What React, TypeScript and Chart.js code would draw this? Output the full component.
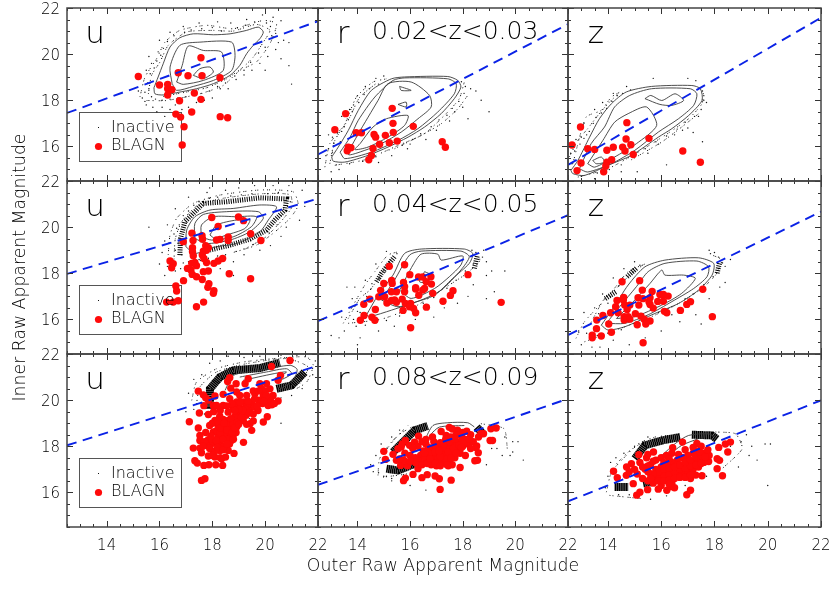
import React, { useEffect, useRef } from "react";
import { Chart, registerables } from "chart.js";

Chart.register(...registerables);

const xTicks = [14, 16, 18, 20, 22];
const yTicks = [16, 18, 20, 22];
const xRange = [12.5, 22];
const yRange = [14.5, 22];
const minorStep = 0.5;
const redshifts = ["0.02<z<0.03", "0.04<z<0.05", "0.08<z<0.09"];
const bands = ["u", "r", "z"];
const xTitle = "Outer Raw Apparent Magnitude";
const yTitle = "Inner Raw Apparent Magnitude";
const legendNames = ["Inactive", "BLAGN"];

// fitted lines: x0,y0,x1,y1
const u1Line = [12.5, 17.45, 22, 21.43];
const r1Line = [12.5, 15.65, 22, 21.3];
const z1Line = [12.5, 15.2, 22, 21.58];
const u2Line = [12.5, 17.97, 22, 21.24];
const r2Line = [12.5, 15.93, 22, 20.52];
const z2Line = [12.5, 15.32, 22, 20.67];
const u3Line = [12.5, 18.04, 22, 21.5];
const r3Line = [12.5, 16.33, 22, 20.06];
const z3Line = [12.5, 15.61, 22, 19.99];

// BLAGN
const u1Red = [15.2,19.03,16,18.66,16.31,18.69,16.31,18.5,16.47,18.46,16.31,18.23,16.76,17.98,16.71,19.19,17.08,19.06,17.57,19.84,17.61,19.06,18.29,18.98,17.32,18.31,17.57,18.04,16.62,17.4,16.8,17.27,17.22,17.49,16.93,16.85,18.3,17.29,18.58,17.24,16.86,16.06];
const r1Red = [13.55,17.42,13.14,16.72,13.95,16.59,14.15,16.59,15.32,17.65,15.35,17,15.36,16.61,14.63,16.52,14.69,16.4,15.06,16.48,16.12,16.87,15.51,16.23,15.21,16.16,14.84,16.09,14.59,15.91,13.75,15.94,13.65,15.97,13.61,15.81,14.53,15.61,14.43,15.42,17.22,16.2,17.34,15.96];
const z1Red = [12.97,16.84,12.65,16.06,13.24,15.9,13.5,15.87,12.99,15.28,12.84,14.95,14.71,17.03,14.68,16.32,14.86,16.07,14.55,15.97,14.2,15.96,13.96,15.83,14.64,15.8,14.95,15.65,15.54,16.35,13.96,15.32,14.14,15.42,13.92,15.15,13.84,14.9,16.81,15.8,17.47,15.31];
const u2Red = [17.98,20.42,18.22,20.03,18.99,20.44,19.18,20.28,17.23,19.74,17.61,19.63,17.63,19.48,17.27,19.42,16.9,19.37,18.16,19.44,18.29,19.47,18.6,19.57,18.6,19.42,19.45,19.71,19.84,19.42,17.25,19.11,17.25,18.93,17.28,18.76,17.75,19.19,17.85,19.11,17.66,18.96,17.62,18.79,17.78,19,17.68,18.64,17.78,18.47,18.06,18.43,18.22,18.53,18.39,18.64,16.4,18.53,16.52,18.41,16.46,18.24,17.22,18.43,17.34,18.47,17.4,18.33,17.06,18.21,17.19,18.14,17.24,17.95,17.4,17.85,17.62,17.73,17.66,18.07,17.85,18.1,18.64,17.98,19.45,17.76,16.91,17.68,16.62,17.45,16.65,17.23,17.87,17.55,17.83,17.39,18.06,17.24,18.04,17.13,16.27,16.75,16.52,16.75,16.71,16.81,17.67,16.75,17.4,16.55];
const r2Red = [15.21,18.3,15.79,18.37,15.99,17.94,16.32,17.84,16.48,17.84,16.79,17.85,15,17.56,15.3,17.69,15.32,17.56,15.75,17.6,14.88,17.26,15.29,17.2,15.48,17.2,15.79,17.42,15.79,17.2,16.21,17.37,16.21,17.32,16.55,17.34,16.61,17.63,16.81,17.53,16.48,17.27,16.33,17.05,16.86,17.13,17.63,17.24,17.53,17.04,17.25,16.79,18.2,17.94,19.46,16.74,14.81,16.98,15.03,16.98,14.47,16.88,14.24,16.66,15.12,16.71,15.29,16.82,15.48,16.74,15.41,16.84,15.7,16.88,15.82,16.69,16.02,16.69,15.98,16.55,16.13,16.48,15.73,16.39,16.21,16.29,16.62,16.53,14.68,16.43,14.25,16.17,14.55,16.09,14.11,15.96,14.66,15.96,16.02,15.64];
const z2Red = [14.53,17.63,15.19,17.68,15.29,17.27,15.66,17.21,15.95,17.08,16.08,17.08,16.26,17.01,14.59,16.95,14.58,16.84,14.34,16.82,15.13,16.94,15.31,16.9,15.58,16.94,15.54,16.77,15.87,16.78,16.08,16.79,14.82,16.62,14.63,16.62,14.29,16.55,15.16,16.62,15.58,16.65,15.7,16.49,14.72,16.43,14.1,16.29,13.81,16.17,14.38,16.29,13.58,15.97,14.61,16.12,14.76,16.12,14.61,15.97,14.82,16.01,15.03,16.25,15.24,16.14,15.36,16.01,15.58,15.93,15.42,15.8,15.1,15.77,14.03,15.8,13.57,15.6,14.13,15.44,13.75,15.28,13.41,15.32,13.41,15.2,15.32,14.99,16.12,16.35,16.21,16.29,16.72,16.39,16.96,16.65,17.1,16.77,17.56,17.31,17.92,16.12];
const u3Red = [20.94,21.72,20.24,21.46,20.58,21.07,20.49,20.86,19.36,20.93,18.66,20.97,18.58,20.81,19.24,20.71,18.9,20.71,18.7,20.52,17.47,20.39,17.66,20.23,17.75,20.1,17.68,19.76,18.04,19.77,18.16,19.77,18.41,19.77,18.41,20.25,18.1,20.18,18.66,20.06,18.92,20.35,19.04,20.2,19.8,20.71,20.05,20.71,20.18,20.49,19.86,20.49,19.61,20.28,19.93,20.2,20.3,20.2,20.49,19.96,20.11,19.77,19.8,19.92,19.49,19.85,19.17,19.92,18.92,19.92,18.79,19.63,19.1,19.63,19.41,19.63,19.73,19.55,19.28,19.34,18.92,19.41,18.6,19.48,17.51,19.44,17.85,19.38,18.1,19.12,18.41,19.16,18.86,19.12,19.17,19.12,20.08,19.28,19.93,19.05,17.13,19.06,17.47,18.79,17.53,18.47,17.53,18.25,17.85,18.28,18.04,18.62,18.35,18.76,18.66,18.76,18.92,18.83,19.49,18.69,19.43,18.98,18.54,18.47,18.22,18.4,17.97,18.11,17.78,18.04,18.28,18.11,18.72,18.25,18.79,18.47,19.18,18.17,17.28,17.92,17.53,17.92,17.59,17.72,18.04,17.75,18.29,17.82,18.6,17.82,18.82,17.69,17.85,17.58,18.1,17.53,18.35,17.46,18.5,17.53,17.34,17.37,17.43,17.27,17.68,17.17,17.87,17.2,18.13,17.2,18.39,17.17,17.72,16.59,17.59,16.52,18.22,18.9,18.16,18.68,18.54,18.9,19.04,19.38,18.6,19.12,18.28,19.3,18.95,19.7,18.85,19.3,19.05,19.9,19.3,19.75,19.6,19.7,19.9,19.85,20.2,20,20,20.4,19.75,20,18.7,19,18.9,18.6,18.7,18.5,18.45,18.5,18.3,18.6,18,18.3,18.2,18.1,18.45,18,18.65,18.1,17.9,17.9,18.1,17.8,18.3,17.5,17.9,18.9,18,19,18.2,19.1,18.3,18.8,18.45,19,18.55,18.7,18.7,19.2,18.8,18.95,18.95,19.05,19.1,19.25,19.25,19.6,19.4,19.45,19.55,19.4,19.7,19.75,19.35,19.95,19.15,19.55,19,19.6,18.85,19.55,18.75,19.85,18.55,19.75,18.6,18.3,18.4,18.3,18.15,18.25,17.95,18.45,17.75,18.6,17.7,18.2,17.65,18,18,17.6,18.2,17.95,18.4,17.85,18.55,18.1,18.75,18.6,18.85,18.8,19,18.95,18.8,18.3,19.3,18.95,19.55,19.1,19.3,20.2,19.55,20.4,19.75,20.4,20.05,20.2,20.25,19.8,20.35,19.85,19.95,19.95,19.6,20.05,17.85,20,18.3,19.55,18.05,19.5];
const r3Red = [17.14,16.13,17.56,16.53,17.11,16.59,16.95,16.71,16.65,16.77,16.45,16.64,15.82,16.62,15.75,16.51,16.11,16.78,16.3,17.03,16.38,17.24,17.9,17.08,18.46,17.37,18.56,17.39,18.59,17.72,18.53,18.01,19.04,18.25,19.13,18.25,18.79,18.54,19.07,18.76,19.27,18.79,18.69,18.54,17.49,18.82,15,17.78,15.06,17.43,15.64,17.17,15.48,17.39,15.77,17.39,15.54,17.89,15.66,17.97,15.82,18.25,15.98,18.04,16.17,18.18,16.32,18.44,17.18,18.64,17.37,18.47,16.5,17.8,16.7,17.6,16.9,17.4,17.1,17.3,17.3,17.3,17.5,17.35,16.6,17.4,16.8,17.2,17,17.15,17.2,17.5,17.4,17.6,17.6,17.7,17,17.7,16.8,17.9,16.6,18.1,16.9,18.2,17.1,18,17.3,17.9,17.5,18,17.7,18.1,17.9,18.2,18.1,18.3,18.3,18.5,18,18.6,17.8,18.7,17.6,18.75,17.8,17.9,18,18,17.9,17.7,17.7,17.5,16.4,17.6,16.2,17.5,16,17.6,15.8,17.7,16.3,18,17.2,17.7,16.95,17.55,18.2,18.1,18.4,18.2,18.6,18.4,17.6,17.2,17.45,17.15,16.35,17.35,16.55,17.55,16.75,17.75,16.95,17.95,17.15,18.15,17.35,18.3,17.55,18.4,17.75,18.5,17.95,18.45,18.15,18.65,16.45,17.2,16.65,17.25,16.85,17.35,17.05,17.45,17.25,17.6,17.45,17.75,17.65,17.9,17.85,18.05,18.05,18.15,18.25,18.3,16.55,17.7,16.75,17.45,16.95,17.25,17.15,17.15,17.35,17.45,17.55,17.5,17.75,17.7,17.95,17.95,16.7,17.95,16.95,17.75,17.15,17.55,17.4,17.2,17.1,17.8,17.3,18.1,17.5,18.2,17.7,18.3,16.2,17.3,16.1,17.9,15.6,17.45,15.9,17.15,16,17.35,15.35,17.65,15.7,18.1,16.45,18.2,16.6,18.3,16.85,18.4,18.5,17.95,18.3,17.9,18.1,17.6];
const z3Red = [16.96,15.9,17.1,16.09,15.08,15.88,15.2,16.01,15.49,16.12,15.89,16.14,16.21,16.09,16.37,16.25,14.21,16.92,14.35,16.64,14.69,16.74,14.95,16.38,14.88,17.24,15.16,17.63,15.71,17.75,16.8,18.18,16.43,17.94,17.34,18.12,18.16,17.95,18.41,18.1,18.6,18.18,18.5,17.75,18.1,17.46,18.19,17.39,18.1,17.03,18.3,16.72,17.53,16.72,17.78,17.34,15.4,17,15.6,16.8,15.8,16.6,16,16.5,16.2,16.6,16.4,16.7,16.6,16.8,16.8,16.9,17,16.9,17.2,17,17.4,17.1,17.6,17.3,17.8,17.6,17.6,17.7,17.4,17.8,17.2,17.7,17,17.6,16.8,17.5,16.6,17.4,16.4,17.3,16.2,17.2,16,17.1,15.8,17,15.6,17.2,15.8,17.4,16,17.5,16.2,17.6,16.4,17.7,16.6,17.2,16.8,17.1,17,17.2,17.2,17.3,17.4,17.4,16.2,16.9,16,16.85,15.5,16.5,15.3,16.6,15.7,16.4,16,16.3,16.4,16.4,15.2,17.3,15.45,17.5,17.1,16.6,17.3,16.75,15.9,16.7,16.1,16.75,16.3,16.8,16.5,16.9,16.7,17,16.9,17.05,17.1,17.15,17.3,17.2,17.5,17.25,15.9,16.9,16.1,17,16.3,17.05,16.5,17.1,16.7,17.2,16.9,17.3,17.1,17.4,17.3,17.55,17.5,17.6,15.7,16.8,15.9,16.5,16.1,16.5,16.3,16.55,16.5,16.6,16.7,16.65,16.9,16.65,17.1,16.75,15.5,16.9,15.5,17.15,15.7,17.35,15.3,17.1,15.1,16.8,15,17,14.8,16.9,14.7,17.1,15.6,16.6,16.3,16.35,16.5,16.2,15.5,17.65,17.45,17.75,17.65,17.55,17.75,17.85,17.5,18,17.2,17.95,16.9,17.85,16.65,17.65,16.3,17.45,16.1,17.3];

// contours
const u1Contours = [
  [15.79,18.54,15.95,19.01,16.14,19.58,16.4,20.31,16.77,20.71,17.28,20.88,18.04,20.84,18.67,20.88,19.3,21.03,19.74,21.17,19.93,20.96,19.8,20.67,19.55,20.38,19.3,20.02,19.04,19.51,18.67,19.08,18.04,18.72,17.4,18.5,16.65,18.33,16.14,18.23,15.83,18.28,15.79,18.54],
  [16.48,18.72,16.4,19.44,16.77,20.38,17.53,20.52,18.73,20.52,18.86,19.94,18.73,19.29,18.04,18.86,17.28,18.6,16.65,18.43,16.48,18.72],
  [16.65,18.79,16.86,19.51,17.09,20.35,17.66,20.16,18.35,20.09,18.41,19.29,17.66,18.86,16.9,18.69,16.65,18.79],
  [17.28,19.08,17.53,19.37,17.91,19.44,18.04,19.22,17.66,18.94,17.28,19.08],
];
const r1Contours = [
  [13.02,15.54,13.27,15.97,13.65,16.69,14.03,17.56,14.53,18.43,15.29,18.93,15.79,19.01,17.43,19.03,17.81,18.86,17.93,18.57,17.68,18.07,17.18,17.42,16.55,16.84,15.92,16.4,15.16,15.97,14.4,15.61,13.52,15.32,13.08,15.36,13.02,15.54],
  [13.34,15.75,13.72,16.4,14.03,17.13,14.66,18.14,15.35,18.86,15.8,18.97,17.43,18.93,17.75,18.72,17.68,18.28,17.05,17.49,16.3,16.77,15.54,16.26,14.53,15.75,13.52,15.47,13.34,15.75],
  [14.03,16.55,14.78,17.99,15.16,18.72,16.04,18.79,16.74,18.21,16.8,17.71,16.3,17.2,15.66,16.62,14.91,16.12,14.28,15.83,13.65,15.65,14.03,16.55],
  [14.1,16.12,14.59,16.84,15.1,17.2,15.92,17.34,15.79,16.91,15.16,16.4,14.4,15.97,13.9,15.86,14.1,16.12],
  [15.54,17.82,15.85,17.92,15.85,17.71,15.54,17.82],
  [15.6,18.6,16.04,18.43,15.66,18.43,15.6,18.6],
];
const z1Contours = [
  [12.61,14.96,12.87,15.39,13.31,16.4,13.68,17.2,14.13,17.85,14.69,18.36,15.64,18.6,17.15,18.64,17.47,18.5,17.53,17.99,17.03,17.34,16.4,16.77,15.89,16.4,14.88,15.61,14,15.18,13.12,14.74,12.68,14.82,12.61,14.96],
  [12.93,15.03,13.37,16.12,13.87,16.84,14.25,17.71,14.82,18.21,15.64,18.5,17.09,18.5,17.34,18.28,17.22,17.78,16.65,17.2,15.89,16.62,15.01,15.83,14.13,15.25,13.24,14.89,12.93,15.03],
  [13.24,15.25,13.81,16.26,14.25,17.05,14.76,17.42,15.45,17.71,15.83,16.91,15.07,16.12,14.25,15.54,13.5,15.1,13.24,15.25],
  [15.39,18.07,15.61,18.21,16.02,17.99,16.52,18.28,16.84,17.99,16.4,17.78,15.95,17.82,15.39,18.07],
  [13.43,15.39,13.75,15.54,13.87,15.32,13.56,15.25,13.43,15.39],
];
const u2Contours = [
  [17,19.15,17.03,19.87,17.34,20.45,17.91,20.74,18.79,20.81,19.8,20.96,20.43,20.88,20.12,20.31,19.8,19.8,18.92,19.29,18.16,19.15,17.34,18.86,17,19.15],
  [17.34,19.51,17.34,20.16,17.66,20.55,18.54,20.67,19.74,20.67,19.93,20.38,19.42,19.8,18.67,19.44,17.78,19.29,17.34,19.51],
  [17.59,19.58,17.59,20.09,18.04,20.45,18.92,20.45,19.67,20.45,19.48,20.02,18.79,19.58,17.97,19.44,17.59,19.58],
  [17.91,19.66,18.16,20.09,18.92,20.31,19.42,20.31,19.23,19.94,18.54,19.66,18.1,19.51,17.91,19.66],
];
const r2Contours = [
  [14.34,16.19,14.78,17.05,15.35,17.92,15.79,18.86,16.42,19.05,18.06,19.05,18.38,18.86,18.25,18.43,17.62,17.78,16.93,17.05,16.04,16.69,15.29,16.4,14.47,16.12,14.34,16.19],
  [14.91,16.84,15.41,17.71,15.98,18.79,16.42,18.96,17.93,18.96,18.25,18.72,17.93,18.14,17.18,17.27,16.42,16.84,15.54,16.55,14.91,16.84],
  [15.6,17.27,16.11,18.36,16.42,18.83,17.05,18.83,17.18,18.57,18,18.75,17.93,18.36,17.49,17.85,16.93,17.34,16.04,16.91,15.6,17.27],
  [16.55,18.07,16.8,17.92,16.67,17.63,16.36,17.63,16.55,18.07],
];
const z2Contours = [
  [13.75,15.75,14.19,16.48,14.76,17.49,15.39,18.28,16.14,18.57,17.4,18.67,17.97,18.43,17.91,17.92,17.4,17.27,16.65,16.69,15.77,16.26,14.63,15.68,14,15.54,13.75,15.75],
  [13.94,15.83,14.44,16.55,15.07,17.42,15.51,18.07,16.14,18.43,17.34,18.53,17.78,18.28,17.72,17.85,17.22,17.34,16.4,16.77,15.51,16.2,14.63,15.83,13.94,15.83],
  [14.32,16.04,15.01,16.84,15.58,17.56,16.02,18.14,16.14,17.92,16.84,17.92,17.28,17.78,16.77,17.13,16.02,16.62,15.01,16.12,14.32,16.04],
];
const u3Contours = [
  [18.48,20.42,18.79,21.07,19.8,21.29,20.94,21.51,21.21,21.33,21.06,20.86,20.49,20.42],
  [19.04,21,20.05,21.22,20.81,21.36,21,21.14,20.43,20.78],
  [19.17,20.86,20.3,21.14,20.81,21.22,20.3,20.86],
];
const r3Contours = [
  [16.55,18.25,16.87,18.9,17.43,19.02,18.19,19.02,18.44,18.84],
  [16.74,18.47,17.11,18.83,18.06,18.9],
];
const z3Contours = [
  [16.02,17.6,16.52,18.11,17.03,18.47,17.78,18.54,18.03,18.4],
  [16.27,17.6,16.77,18.04,17.4,18.33],
];

// stippled rims of the inactive cloud
const u1Rims = [
  [15.26,18.14,15.45,19,15.89,19.8,16.21,20.52,16.77,21.03,17.78,21.25,18.79,21.1,19.93,21.46,20.43,21.32,20.18,20.45,19.67,19.66,19.04,19.29,18.41,18.64,17.53,18.28,16.27,17.99,15.51,17.99],
  [15.58,18.28,15.7,19.08,16.02,19.66,16.33,20.38,17.03,20.96,18.04,21.03,18.79,21,19.67,21.29,20.18,21.03,19.93,20.52,19.55,19.87,19.17,19.44,18.54,18.93,17.78,18.54,17.03,18.36,16.02,18.14],
];
const r1Rims = [
  [12.76,15.1,12.95,16.12,13.52,16.98,13.96,18.14,14.59,18.79,15.1,18.93],
  [12.95,15.25,13.14,16.26,13.71,17.27,14.09,18.14,14.78,18.79],
  [13.14,15.18,14.28,15.42,15.54,16.04,16.55,16.55,17.43,17.49,17.87,18.07,18.06,18.79],
  [15.41,15.9,16.42,16.48,17.18,16.98,17.81,17.63,18.19,18.21],
];
const z1Rims = [
  [12.68,15.25,13.18,17.27,13.75,17.56,14.13,18.14,14.57,18.43],
  [12.55,15.54,12.87,16.26,13.24,16.77,13.62,17.34,14,17.85,14.38,18.28],
  [12.87,14.67,14,15.03,15.13,15.75,16.14,16.48,17.03,17.2,17.53,17.85,17.59,18.43],
  [14.88,15.42,16.02,16.19,16.77,16.84,17.41,17.42],
];
const u2Rims = [
  [16.33,18.79,16.4,19.66,16.65,20.38,17.28,21.03,18.29,21.39,19.8,21.61,21.06,21.53,21.25,20.96,20.94,20.38,20.3,19.73,19.67,19.22,18.67,18.86],
  [16.55,18.6,16.6,19.5,16.85,20.25,17.45,20.95,18.4,21.25,19.9,21.45,20.95,21.4,21,20.85,20.6,20.25,20,19.55,19.3,19.1],
];
const r2Rims = [
  [13.46,15.83,13.77,16.48,14.28,17.49,14.66,18.07,15.16,18.79,15.66,18.96],
  [13.65,16.04,14.09,16.91,14.47,17.27,14.84,17.85,15.29,18.64],
  [13.65,15.83,14.91,16.01,16.17,16.55,17.18,17.27,18.06,17.92,18.63,18.5,18.63,18.86],
];
const z2Rims = [
  [12.8,15.18,13.12,15.9,13.75,16.69,14.19,17.27,14.76,18.07,15.45,18.43],
  [13.31,15.75,13.87,16.91,14.25,17.27,14.88,17.99,15.32,18.36],
  [13.12,15.03,14.63,15.68,15.64,16.12,16.65,16.69,17.53,17.34,18.04,17.92,18.29,18.57,17.91,18.79],
];
const u3Rims = [
  [17.22,19.99,17.4,20.78,18.16,21.36,19.17,21.65,20.3,21.8,21.57,21.87,21.82,21.51,21.57,20.78,21.06,20.42],
  [17.4,19.84,17.53,20.57,18.16,21.22,19.29,21.58,20.81,21.8,21.63,21.43,21.31,20.71],
];
const r3Rims = [
  [14.78,16.74,14.84,17.46,15.29,18.18,15.92,18.9],
  [14.97,16.66,15.92,16.81,16.4,17],
  [15.03,17.75,15.54,18.47,16.04,18.83],
  [18.69,18.98,19.57,18.76,19.7,17.82],
];
const z3Rims = [
  [13.94,16.01,14.13,16.88,14.57,17.46,15.14,18.11,15.77,18.4,16.65,18.5],
  [14.06,15.87,15.26,15.73],
  [14.32,17.24,14.76,17.75,15.39,18.25],
  [18.04,18.62,18.79,18.54,19.04,17.89,18.29,17.03],
];

// black masses of the inactive cloud
const u2Masses = [
  [16.77,18.79,16.8,19.51,16.96,20.23,17.66,21.03,18.54,21.1,19.8,21.27,20.81,21.22,20.75,20.74,20.37,20.31,20.05,19.87,19.42,19.48,18.67,19.22,17.91,19.01],
];
const r2Masses = [[14.72,17.63,14.91,17.99,15.41,18.72], [18.44,18.21,18.56,18.79]];
const z2Masses = [[14.72,17.85,15.1,18.25], [18.1,18,18.2,18.5], [13.9,16.9,14.3,17.2]];
const u3Masses = [
  [17.91,19.63,17.91,20.49,18.29,21,18.79,21.29,19.8,21.39,20.56,21.62],
  [20.43,20.49,21,20.64,21.5,21.22],
];
const r3Masses = [
  [15.1,17.03,15.54,16.95,16.17,17.24],
  [15.35,17.75,15.79,18.25,16.17,18.69,16.67,18.88],
  [18.53,18.83,18.82,18.47],
];
const z3Masses = [
  [14.25,16.23,14.76,16.23],
  [15.01,17.46,15.39,18.04,16.02,18.25,16.71,18.4],
  [17.15,18.5,17.91,18.47,18.1,18.3],
  [15.32,16.38,15.64,16.45],
];

// sparse Inactive points
const u1Dots = [15.2,18.4,15.35,18.1,15.5,17.8,15.6,18.5,15.75,17.7,15.9,17.5,16.1,17.7,16.2,17.3,16.4,17.6,16.6,17.8,16.85,17.6,17.1,17.7,17.4,17.9,17.7,18,18,18.1,18.3,18.5,18.6,18.5,18.9,18.9,19.2,19.1,19.5,19.3,19.8,19.6,20.1,19.9,20.4,20.2,20.7,20.6,20.9,20.5,20.6,19.8,20.9,19.5,21,18.7,20,19.3,15.5,19.3,15.7,19.6,15.6,19.9,15.95,20.1,16,20.6,16.4,20.95,16.9,21.2,17.5,21.35,18.2,21.4,18.7,21.35,19.3,21.5,19.9,21.7,20.3,21.6,20.6,21.45,20.4,20.9,20.5,20.5,15.45,18.35,15.55,18.75,15.65,19.15,15.8,19.4,15.9,19.7,16.05,19.95,16.15,20.25,16.3,20.55,16.55,20.8,16.95,20.95,17.2,21.05,17.6,21.1,18,21.15,18.35,21,18.95,21.15,19.25,21.25,19.6,21.4,20.05,21.35,20.2,21.2,20.25,20.8,20,20.3,19.75,20.05,19.45,19.65,19.2,19.3,18.85,19.05,18.5,18.75,18.2,18.6,17.9,18.4,17.6,18.3,17.3,18.25,17,18.15,16.7,18.1,16.4,18.05,16.1,18,15.85,18.05,15.7,18.15,15.45,17.95];
const r1Dots = [12.8,15.6,13,14.9,13.3,15,12.9,16.5,13.2,16.8,13.4,17.3,13.05,16.4,13.35,16.2,13.7,17.6,14,18.2,14.3,18.6,14.7,18.95,15,19.05,16,16.1,16.6,16.3,17,16.7,17.5,17.1,17.7,17.5,18,17.7,18.3,18.5,18.5,18.4,18.7,18,19,17.5,18.2,17.2,14.8,15.3,15.3,15.6,15.9,15.9,12.9,15.9,13.05,15.75,13.1,16.15,13.25,16.6,13.4,16.65,13.5,16.85,13.65,17.15,13.8,17.5,13.85,17.8,14.05,17.9,14.25,18.25,14.45,18.5,14.8,18.7,13.2,15.2,13.7,15.25,14.2,15.35,14.7,15.55,15.2,15.85,15.7,16.05,16.1,16.3,16.4,16.55,16.8,16.85,17.1,17.15,17.4,17.35,17.6,17.65,17.85,17.95,18.05,18.3,18.1,18.6,17.95,18.8];
const z1Dots = [12.6,15.7,12.8,16.3,13,16.4,13.2,16.5,13.1,17,13.5,17.6,13.8,17.9,14.2,18.3,14.7,18.6,15.7,18.95,17,18.95,17.3,18.85,17.6,18.2,17.7,17.9,17.4,17.3,17,16.8,16.5,16.5,15.9,16.1,15.5,15.7,17.55,16.2,16.2,15.2,15.1,14.9,14.5,14.9,13.5,14.6,17.2,16.6,16.8,16.7,12.65,15.25,12.75,15.8,12.95,16.1,13.1,16.35,13.3,16.65,13.45,17,13.55,17.25,13.75,17.45,13.95,17.65,14.15,17.95,14.35,18.2,14.55,18.3,14.85,18.45,13,14.7,13.6,14.85,14.05,15,14.5,15.2,15,15.55,15.4,15.9,15.8,16.2,16.2,16.45,16.6,16.75,16.9,17.05,17.25,17.3,17.5,17.6,17.6,18,17.55,18.4];
const u2Dots = [16.2,19.4,16.3,20.1,16.1,18.9,16.3,18.3,16.6,18.1,16.8,18.2,17.1,18.5,17.5,18.6,16.6,20.8,17.1,21.3,17.8,21.5,17.9,21.7,18.5,21.6,19,21.7,19.6,21.8,20.3,21.8,20.9,21.8,21.4,21.6,21.5,20.9,21.3,20.3,20.8,20,20.6,19.6,20.2,19.2,19.8,19,19.2,18.8,18.8,18.5,18.3,18.2,18.8,17.9,15.6,20,16.2,17.9,16,18.4,16.6,19,16.7,19.3,16.55,19.7,16.65,19.95,16.75,20.1,16.9,20.5,17.1,20.7,17.3,20.95,17.5,21.1,17.9,21.25,18.2,21.3,18.7,21.35,19.1,21.4,19.5,21.45,20.1,21.45,20.5,21.5,20.95,21.1,20.85,20.9,20.6,20.5,20.45,20.1,20.15,19.75,19.85,19.45,19.55,19.25,19.2,19.05,18.9,18.95,18.5,18.8,18.2,18.75,17.85,18.65,17.55,18.55,17.3,18.55,16.9,18.45,16.85,18.8];
const r2Dots = [13,15.3,13.3,15.2,13.5,15.5,13.4,16.1,13.8,16.9,13.9,17.4,14.3,17.7,14.7,18.4,15.1,18.95,13.6,17.4,16.9,16.1,17.3,16.5,17.8,16.7,18.2,17,18.4,17.5,18.9,17.9,19.1,18.1,19.6,18.1,18.9,18.5,18.8,19,18.9,16.9,19.2,17.2,14.1,15.2,14.8,15.5,15.4,15.7,16.2,16,14,14.9,14.1,16.3,14.25,16.7,14.35,17,14.5,17.3,14.55,17.55,14.85,17.75,15.05,18.05,15.2,18.45,15.5,18.85,13.85,16,14,16.35,13.95,15.7,14.3,15.75,14.7,15.85,15.1,15.95,15.6,16.15,16,16.45,16.5,16.7,16.9,16.95,17.4,17.35,17.75,17.7,18.1,18.1,18.4,18.4,18.75,18.7,18.5,18.9,18.35,19];
const z2Dots = [12.9,15.5,13,14.9,13.2,15.4,13.4,14.8,13.1,16.3,13.5,16.5,13.8,17.1,14.2,17.8,14.6,18.2,15,18.5,14.8,14.9,15.4,15.2,16,15.5,16.7,15.9,17.3,16.2,17.5,15.8,17.8,16.9,18.2,17.4,18.4,18.3,18.6,18.6,18,18.9,17.8,19,18.4,17.6,16.4,16.2,14.2,15.1,13.7,14.8,13.5,15.95,13.65,16.25,14,16.7,14.1,17,14.4,17.45,14.55,17.8,14.95,18.2,15.2,18.35,13.6,15.3,14.1,15.5,14.5,15.55,15,15.8,15.4,16,15.9,16.3,16.4,16.55,16.9,16.9,17.2,17.1,17.6,17.5,17.95,17.85,18.15,18.2,18.3,18.45,18.15,18.7,17.85,18.85];
const u3Dots = [17,19.5,17.1,20.3,17.3,20.9,17.6,21.1,17.9,21.6,18.3,21.7,18.6,21.9,19.2,21.85,19.8,21.9,20.6,21.95,21.2,21.95,21.9,21.7,21.8,21.1,21.4,20.5,21,20.2,20.6,20.1,19.4,19.2,20.6,19,17.3,19.6,17.7,19.4,18.3,19.2];
const r3Dots = [14.5,17.2,14.6,16.9,14.7,17.6,14.9,18.1,15.3,18.4,15.6,18.7,15.1,16.7,15.3,16.5,16,16.3,16.6,16.1,19.2,18.9,19.6,18.4,19.9,18.2,20.1,18.2,19.5,17.6,19.8,17.6,19.1,17.9,19.9,17.75,20.3,17.4,18.9,17.2,19.3,17.9,15.3,16.6,14.8,16.85,15,16.7];
const z3Dots = [13.9,16.2,14,16.7,14.1,17.3,14.3,17.5,14.6,17.7,15,18,15.5,18.4,14.4,15.9,14.8,15.9,15.6,15.7,16.2,15.85,16.9,16.3,17.7,16.7,18,17,18.3,17.4,18.6,18,19,18.2,19.2,18.5,19.4,18,19.3,17.6,19.9,18.1,20.1,18.1,19.6,17.4,18.9,17.1,20,16.3];

const cols = [67, 318, 568, 821];
const rows = [8, 181, 354, 527];

const panels = [
  [u1Line, u1Red, u1Contours, u1Rims, [], u1Dots],
  [r1Line, r1Red, r1Contours, r1Rims, [], r1Dots],
  [z1Line, z1Red, z1Contours, z1Rims, [], z1Dots],
  [u2Line, u2Red, u2Contours, u2Rims, u2Masses, u2Dots],
  [r2Line, r2Red, r2Contours, r2Rims, r2Masses, r2Dots],
  [z2Line, z2Red, z2Contours, z2Rims, z2Masses, z2Dots],
  [u3Line, u3Red, u3Contours, u3Rims, u3Masses, u3Dots],
  [r3Line, r3Red, r3Contours, r3Rims, r3Masses, r3Dots],
  [z3Line, z3Red, z3Contours, z3Rims, z3Masses, z3Dots],
] as any[];

const FONT = '"DejaVu Sans"';
const INK = "#000";

const toPts = (a: number[]) => {
  const out: { x: number; y: number }[] = [];
  for (let i = 0; i + 1 < a.length; i += 2) out.push({ x: a[i], y: a[i + 1] });
  return out;
};

const lineSet = (a: number[], color: string, width: number, dash: number[], tension = 0) => ({
  type: "scatter",
  data: toPts(a),
  showLine: true,
  borderColor: color,
  backgroundColor: color,
  borderWidth: width,
  borderDash: dash,
  tension,
  pointRadius: 0,
});

const makeConfig = (index: number) => {
  const row = Math.floor(index / 3);
  const col = index % 3;
  const [line, red, contours, rims, masses, dots] = panels[index];
  const L = cols[col], R = cols[col + 1], T = rows[row], B = rows[row + 1];
  const isLeft = col === 0, isBottom = row === 2;
  const yW = isLeft ? L : 0;
  const xH = isBottom ? 60 : 0;

  const decor = {
    id: "decor",
    beforeDatasetsDraw(c: any) {
      const ctx = c.ctx;
      const { left, top } = c.chartArea;
      if (col === 0) {
        ctx.save();
        ctx.strokeStyle = "#555";
        ctx.lineWidth = 1;
        ctx.strokeRect(left + 12.5, top + 104.5, 102, 49);
        ctx.restore();
      }
    },
    afterDatasetsDraw(c: any) {
      const ctx = c.ctx;
      const { left, right, top, bottom } = c.chartArea;
      const sx = c.scales.x, sy = c.scales.y;
      ctx.save();
      ctx.strokeStyle = "#333";
      ctx.lineWidth = 1;
      ctx.beginPath();
      for (let v = xRange[0]; v <= xRange[1]; v += minorStep) {
        const p = Math.round(sx.getPixelForValue(v)) + 0.5;
        const n = xTicks.includes(v) ? 6 : 3;
        ctx.moveTo(p, bottom); ctx.lineTo(p, bottom - n);
        ctx.moveTo(p, top); ctx.lineTo(p, top + n);
      }
      for (let v = yRange[0]; v <= yRange[1]; v += minorStep) {
        const p = Math.round(sy.getPixelForValue(v)) + 0.5;
        const n = yTicks.includes(v) ? 6 : 3;
        ctx.moveTo(left, p); ctx.lineTo(left + n, p);
        ctx.moveTo(right, p); ctx.lineTo(right - n, p);
      }
      ctx.stroke();
      ctx.strokeStyle = "#444";
      ctx.lineWidth = 1.5;
      ctx.strokeRect(left, top, right - left, bottom - top);

      ctx.fillStyle = INK;
      ctx.textBaseline = "alphabetic";
      ctx.textAlign = "center";
      ctx.font = `200 31px ${FONT}`;
      ctx.fillText(bands[col], left + (col === 1 ? 25 : 28), top + 35);
      if (col === 1) {
        ctx.textAlign = "left";
        ctx.font = `200 25px ${FONT}`;
        ctx.fillText(redshifts[row], left + 54, top + 31);
      }
      if (isBottom && col === 1) {
        ctx.textAlign = "center";
        ctx.textBaseline = "middle";
        ctx.font = `200 17.3px ${FONT}`;
        ctx.fillText(xTitle, (left + right) / 2, bottom + 40);
      }
      if (col === 0) {
        ctx.textAlign = "left";
        ctx.textBaseline = "middle";
        ctx.font = `200 16px ${FONT}`;
        ctx.fillText(legendNames[0], left + 44, top + 120);
        ctx.fillText(legendNames[1], left + 44, top + 138);
        ctx.fillStyle = "#111";
        ctx.fillRect(left + 31, top + 119, 1, 1);
        ctx.fillStyle = "#ff0a0a";
        ctx.beginPath();
        ctx.arc(left + 31.5, top + 138.5, 3.6, 0, Math.PI * 2);
        ctx.fill();
      }
      ctx.restore();
    },
  };

  const massWidth = row === 1 ? 5 : 8;
  const massDash = row === 1 ? [1, 1.3] : [1.6, 0.3];

  return {
    type: "scatter",
    data: {
      datasets: [
        lineSet(line, "#0a22e6", 1.9, [10, 6.5]),
        { type: "scatter", data: toPts(red), backgroundColor: "#ff0a0a", borderWidth: 0, pointRadius: 3.7 },
        ...contours.map((c: number[]) => lineSet(c, "#3a3a3a", 0.9, [], 0.25)),
        ...masses.map((c: number[]) => lineSet(c, "#000", massWidth, massDash)),
        ...rims.map((c: number[], i: number) => lineSet(c, "#111", 1, i % 2 ? [1, 2, 1, 4, 1, 1] : [1, 3, 1, 1, 1, 5], 0.2)),
        { type: "scatter", data: toPts(dots), backgroundColor: "#111", borderWidth: 0, pointRadius: 0.7 },
      ],
    },
    plugins: [decor],
    options: {
      responsive: false,
      animation: false,
      events: [],
      layout: { padding: { left: L - yW, right: 830 - R, top: T, bottom: 593 - B - xH } },
      plugins: { legend: { display: false }, tooltip: { enabled: false }, title: { display: false } },
      scales: {
        x: {
          type: "linear",
          min: xRange[0],
          max: xRange[1],
          grid: { display: false, drawTicks: false },
          border: { display: false },
          afterBuildTicks: (s: any) => { s.ticks = xTicks.map((value) => ({ value })); },
          afterFit: (s: any) => {
            s.height = xH;
            s.paddingLeft = s.paddingRight = s.paddingTop = s.paddingBottom = 0;
          },
          ticks: {
            display: isBottom,
            padding: 10,
            autoSkip: false,
            maxRotation: 0,
            color: INK,
            font: { family: FONT, size: 15, weight: "200" },
          },
        },
        y: {
          type: "linear",
          min: yRange[0],
          max: yRange[1],
          grid: { display: false, drawTicks: false },
          border: { display: false },
          afterBuildTicks: (s: any) => { s.ticks = yTicks.map((value) => ({ value })); },
          afterFit: (s: any) => {
            s.width = yW;
            s.paddingLeft = s.paddingRight = s.paddingTop = s.paddingBottom = 0;
          },
          ticks: {
            display: isLeft,
            padding: 7,
            labelOffset: 2,
            autoSkip: false,
            color: INK,
            font: { family: FONT, size: 15, weight: "200" },
          },
          title: {
            display: isLeft && row === 1,
            text: yTitle,
            color: INK,
            padding: { top: 10, bottom: 0 },
            font: { family: FONT, size: 17.3, weight: "200" },
          },
        },
      },
    },
  } as any;
};

function Panel({ index }: { index: number }) {
  const ref = useRef<HTMLCanvasElement | null>(null);
  useEffect(() => {
    const chart = new Chart(ref.current as HTMLCanvasElement, makeConfig(index));
    return () => chart.destroy();
  }, [index]);
  return (
    <canvas
      ref={ref}
      width={830}
      height={593}
      style={{ position: "absolute", left: 0, top: 0, width: 830, height: 593, display: "block" }}
    />
  );
}

export default function App() {
  return (
    <div style={{ position: "fixed", left: 0, top: 0, width: 830, height: 593, background: "#fff", overflow: "hidden" }}>
      {panels.map((_, i) => (
        <Panel key={i} index={i} />
      ))}
    </div>
  );
}
